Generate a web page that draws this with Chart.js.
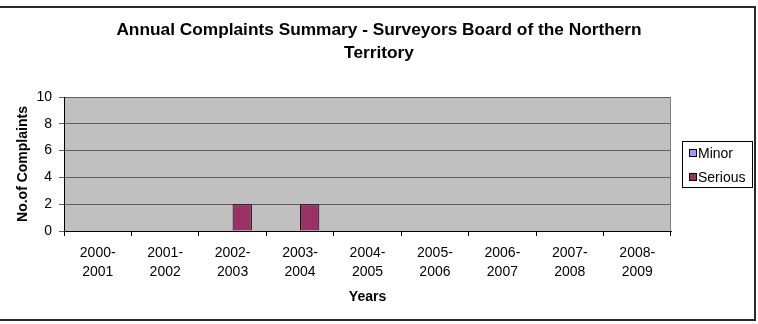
<!DOCTYPE html>
<html>
<head>
<meta charset="utf-8">
<script src="https://cdn.jsdelivr.net/npm/chart.js@4.4.1/dist/chart.umd.min.js"></script>
<style>
html,body{margin:0;padding:0;background:#fff;}
#wrap{position:relative;width:758px;height:324px;}
canvas{display:block;}
</style>
</head>
<body>
<div id="wrap"><canvas id="c" width="758" height="324"></canvas></div>
<script>
const categories = [["2000-","2001"],["2001-","2002"],["2002-","2003"],["2003-","2004"],["2004-","2005"],["2005-","2006"],["2006-","2007"],["2007-","2008"],["2008-","2009"]];
const minorValues = [0,0,0,0,0,0,0,0,0];
const seriousValues = [0,0,2,2,0,0,0,0,0];
const yTicks = [0,2,4,6,8,10];
const chartTitle = ["Annual Complaints Summary - Surveyors Board of the Northern","Territory"];
const xTitle = "Years";
const yTitle = "No.of Complaints";

const FONT = "'Liberation Sans', Arial, sans-serif";

const bgPlugin = {
  id: 'bgPlugin',
  beforeDraw(chart) {
    const {ctx, chartArea: a} = chart;
    ctx.save();
    ctx.fillStyle = '#ffffff';
    ctx.fillRect(0, 0, chart.width, chart.height);
    ctx.fillStyle = '#c0c0c0';
    ctx.fillRect(a.left, a.top, a.right - a.left, a.bottom - a.top);
    ctx.restore();
  },
  afterDraw(chart) {
    const {ctx, chartArea: a} = chart;
    ctx.save();
    ctx.strokeStyle = '#808080';
    ctx.lineWidth = 1;
    ctx.beginPath();
    ctx.moveTo(a.right - 0.5, a.top);
    ctx.lineTo(a.right - 0.5, a.bottom);
    ctx.stroke();
    ctx.strokeStyle = '#2a2a2a';
    ctx.lineWidth = 2;
    ctx.beginPath();
    ctx.moveTo(0, 7);
    ctx.lineTo(755, 7);
    ctx.lineTo(755, 320);
    ctx.lineTo(0, 320);
    ctx.stroke();
    const lx = 682.5, ly = 141.5, lw = 70, lh = 46;
    ctx.lineWidth = 1;
    ctx.strokeStyle = '#000';
    ctx.fillStyle = '#fff';
    ctx.fillRect(lx, ly, lw, lh);
    ctx.strokeRect(lx, ly, lw, lh);
    ctx.font = '14px ' + FONT;
    ctx.textBaseline = 'middle';
    ctx.textAlign = 'left';
    const rows = [153, 177];
    chart.data.datasets.forEach((ds, i) => {
      const y = rows[i];
      ctx.fillStyle = ds.backgroundColor;
      ctx.fillRect(689.5, y - 3.5, 7, 7);
      ctx.strokeStyle = '#000';
      ctx.strokeRect(689.5, y - 3.5, 7, 7);
      ctx.fillStyle = '#000';
      ctx.fillText(ds.label, 698, y + 1);
    });
    ctx.restore();
  }
};

new Chart(document.getElementById('c'), {
  type: 'bar',
  data: {
    labels: categories,
    datasets: [
      {label: 'Minor', data: minorValues, backgroundColor: '#9999ff', borderColor: '#000', borderWidth: 1, borderSkipped: 'bottom'},
      {label: 'Serious', data: seriousValues, backgroundColor: '#993366', borderColor: '#000', borderWidth: 1, borderSkipped: 'bottom'}
    ]
  },
  options: {
    responsive: false,
    animation: false,
    devicePixelRatio: 1,
    layout: {padding: {left: 0, right: 0, top: 0, bottom: 0}},
    datasets: {bar: {categoryPercentage: 2/3.5, barPercentage: 1}},
    plugins: {
      legend: {display: false},
      tooltip: {enabled: false},
      title: {
        display: true,
        text: chartTitle,
        color: '#000',
        font: {family: FONT, size: 17.3, weight: 'bold', lineHeight: 1.33},
        padding: {top: 18.5, bottom: 32.5}
      }
    },
    scales: {
      x: {
        grid: {display: true, drawOnChartArea: false, drawTicks: true, tickLength: 5, color: '#000', offset: true},
        border: {display: true, color: '#000', width: 1},
        ticks: {color: '#000', font: {family: FONT, size: 14, lineHeight: 1.36}, padding: 8, maxRotation: 0, autoSkip: false},
        title: {display: true, text: xTitle, color: '#000', font: {family: FONT, size: 14, weight: 'bold', lineHeight: 1.2}, padding: {top: 0, bottom: 18}},
        afterFit(scale) { scale.height = 93; }
      },
      y: {
        min: 0, max: 10,
        afterBuildTicks(scale) { scale.ticks = yTicks.map(v => ({value: v})); },
        grid: {color: '#606060', drawTicks: true, tickLength: 5, lineWidth: 1},
        border: {display: true, color: '#000', width: 1},
        ticks: {color: '#000', font: {family: FONT, size: 14}, padding: 7},
        title: {display: true, text: yTitle, color: '#000', font: {family: FONT, size: 14, weight: 'bold', lineHeight: 1.2}, padding: {top: 15, bottom: 0}},
        afterFit(scale) { scale.width = 64; }
      },
      legendSpace: {
        type: 'linear',
        position: 'right',
        display: true,
        grid: {display: false, drawTicks: false},
        border: {display: false},
        ticks: {display: false},
        afterFit(scale) { scale.width = 87; }
      }
    }
  },
  plugins: [bgPlugin]
});
</script>
</body>
</html>
